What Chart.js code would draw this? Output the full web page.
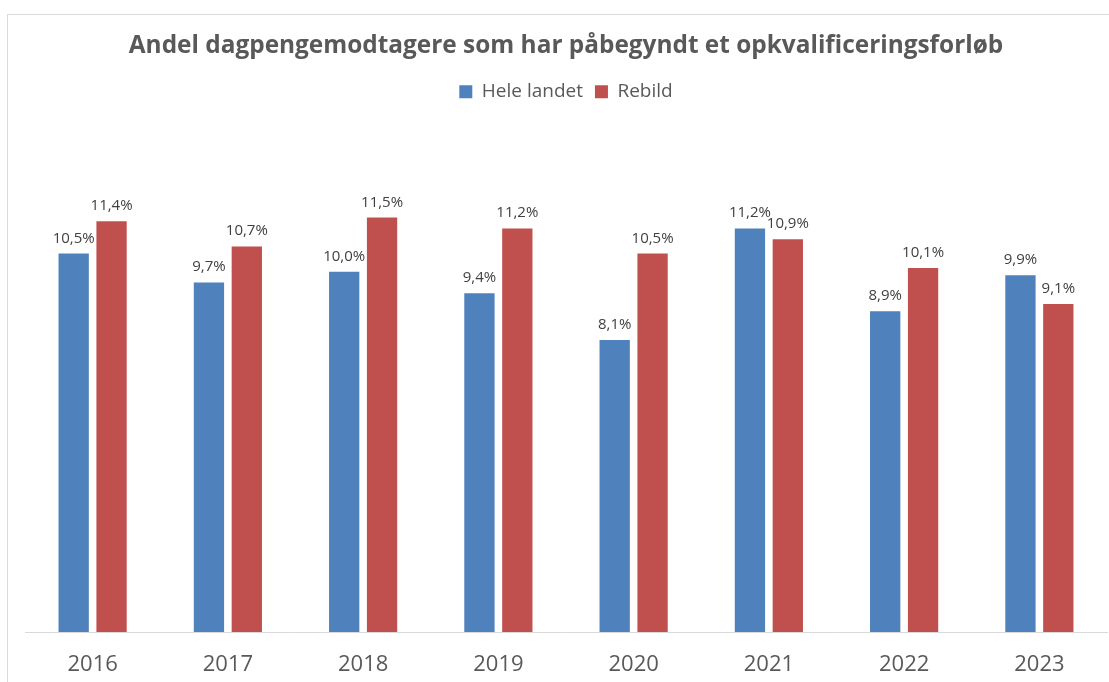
<!DOCTYPE html>
<html>
<head>
<meta charset="utf-8">
<script src="https://cdn.jsdelivr.net/npm/chart.js@4.4.1/dist/chart.umd.min.js"></script>
<style>
  html, body { margin: 0; padding: 0; background: #fff; }
  #wrap { position: relative; width: 1109px; height: 682px; overflow: hidden; }
  #frame { position: absolute; left: 7px; top: 14px; width: 1120px; height: 700px; border: 1px solid #d9d9d9; box-sizing: border-box; }
  canvas { position: absolute; left: 0; top: 0; }
</style>
</head>
<body>
<div id="wrap">
  <div id="frame"></div>
  <canvas id="chart" width="1109" height="682"></canvas>
</div>
<script>
const years = ['2016', '2017', '2018', '2019', '2020', '2021', '2022', '2023'];
const heleLandet = [10.5, 9.7, 10.0, 9.4, 8.1, 11.2, 8.9, 9.9];
const rebild = [11.4, 10.7, 11.5, 11.2, 10.5, 10.9, 10.1, 9.1];

// labels above each bar, danish decimal comma
const barLabels = {
    id: 'barLabels',
    afterDatasetsDraw(chart) {
        const ctx = chart.ctx;
        ctx.save();
        ctx.font = '15px "Open Sans"';
        ctx.fillStyle = '#404040';
        ctx.textAlign = 'center';
        ctx.textBaseline = 'alphabetic';
        chart.data.datasets.forEach((ds, i) => {
            chart.getDatasetMeta(i).data.forEach((bar, j) => {
                const txt = ds.data[j].toFixed(1).replace('.', ',') + '%';
                ctx.fillText(txt, bar.x, bar.y - 11);
            });
        });
        ctx.restore();
    }
};

const ctx = document.getElementById('chart').getContext('2d');
const chart = new Chart(ctx, {
    type: 'bar',
    data: {
        labels: years,
        datasets: [
            { label: 'Hele landet', data: heleLandet, backgroundColor: '#4f81bd' },
            { label: 'Rebild', data: rebild, backgroundColor: '#c0504d' }
        ]
    },
    options: {
        responsive: false,
        animation: false,
        categoryPercentage: 0.56,
        barPercentage: 0.8,
        layout: { padding: { left: 25, right: 2, top: 14, bottom: 0 } },
        plugins: {
            title: {
                display: true,
                text: 'Andel dagpengemodtagere som har påbegyndt et opkvalificeringsforløb',
                color: '#595959',
                font: { family: 'Open Sans', size: 24.4, weight: 'bold' },
                padding: { top: 17, bottom: 10 }
            },
            legend: {
                display: true,
                labels: {
                    color: '#595959',
                    font: { family: 'Open Sans', size: 19 },
                    boxWidth: 13,
                    boxHeight: 13,
                    padding: 12
                }
            },
            tooltip: { enabled: false }
        },
        scales: {
            x: {
                grid: { display: false, drawTicks: false },
                border: { display: true, color: '#d9d9d9', width: 1 },
                ticks: {
                    color: '#595959',
                    font: { family: 'Open Sans', size: 22 },
                    padding: 20
                },
                afterFit(scale) { scale.height = 50; }
            },
            y: {
                display: false,
                min: 0,
                max: 14.45
            }
        }
    },
    plugins: [barLabels]
});
</script>
</body>
</html>
